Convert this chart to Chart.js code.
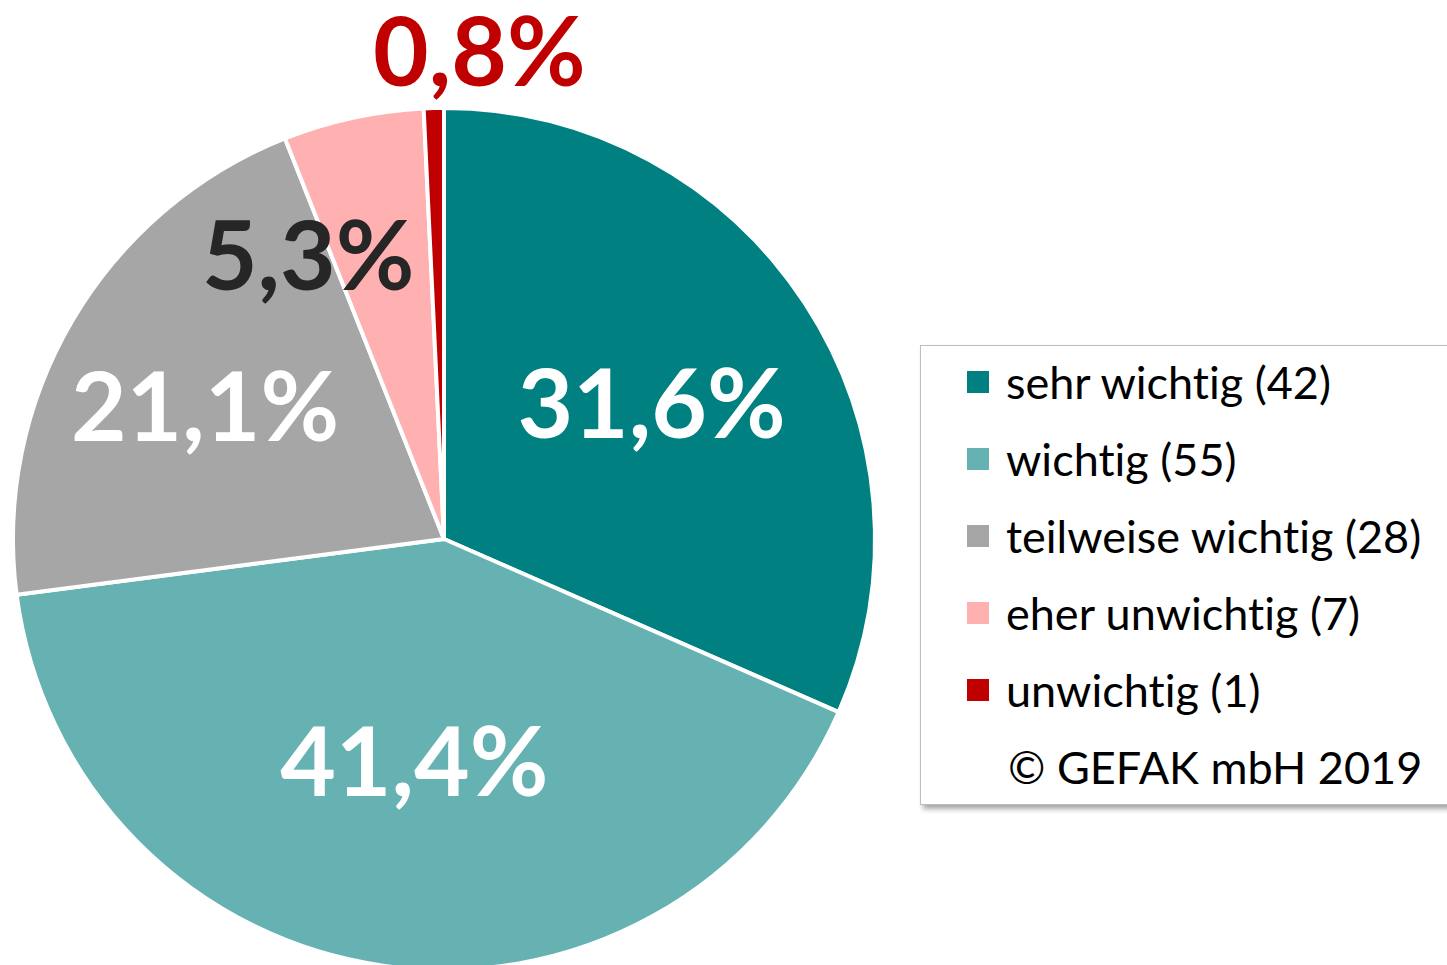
<!DOCTYPE html>
<html>
<head>
<meta charset="utf-8">
<script src="https://cdn.jsdelivr.net/npm/chart.js@4.4.0/dist/chart.umd.min.js"></script>
<style>
  html, body { margin: 0; padding: 0; background: #fff; overflow: hidden; }
  #wrap { position: absolute; left: 0; top: 0; width: 888px; height: 972px; }
  #legend {
    position: absolute; left: 920px; top: 345px; width: 560px; height: 458px;
    border: 1px solid #bdbdbd; background: #fff;
    box-shadow: 3px 4px 5px rgba(0,0,0,0.35);
    font-family: Lato, "Open Sans", sans-serif; font-size: 45px; color: #000;
    font-variant-ligatures: none;
  }
  .row { position: absolute; left: 0; height: 50px; line-height: 50px; white-space: nowrap; }
  .box { position: absolute; left: 46px; top: 14px; width: 22px; height: 22px; }
  .txt { position: absolute; left: 85px; top: 0; }
</style>
</head>
<body>
<div id="wrap"><canvas id="myChart"></canvas></div>
<div id="legend"></div>
<script>
const categories = ["sehr wichtig", "wichtig", "teilweise wichtig", "eher unwichtig", "unwichtig"];
const counts = [42, 55, 28, 7, 1];
const colors = ["#008080", "#66B2B2", "#A6A6A6", "#FFB0B0", "#C00000"];
const labelColors = ["#ffffff", "#ffffff", "#ffffff", "#262626", "#C00000"];
const copyright = "© GEFAK mbH 2019";

// where each percentage sits: share of radius, angle shift in degrees
const labelPos = [
  { f: 0.575, da: 0 },
  { f: 0.52, da: -0.5 },
  { f: 0.635, da: -1.3 },
  { f: 0.73, da: -13.4 },
  { f: 1.135, da: 5.5 },
];

const total = counts.reduce((a, b) => a + b, 0);

const legend = document.getElementById("legend");
let html = "";
for (let i = 0; i < categories.length; i++) {
  html += `<div class="row" style="top:${11 + i * 77}px">
    <div class="box" style="background:${colors[i]}"></div>
    <div class="txt">${categories[i]} (${counts[i]})</div></div>`;
}
html += `<div class="row" style="top:${11 + 5 * 77}px"><div class="txt" style="left:87px">${copyright}</div></div>`;
legend.innerHTML = html;

const pctLabels = {
  id: "pctLabels",
  afterDatasetsDraw(chart) {
    const ctx = chart.ctx;
    const meta = chart.getDatasetMeta(0);
    ctx.save();
    ctx.font = "bold 96px Lato, 'Open Sans', sans-serif";
    ctx.textAlign = "center";
    ctx.textBaseline = "middle";
    meta.data.forEach((arc, i) => {
      const p = arc.getProps(["x", "y", "startAngle", "endAngle", "outerRadius"], true);
      const mid = (p.startAngle + p.endAngle) / 2 + labelPos[i].da * Math.PI / 180;
      const r = p.outerRadius * labelPos[i].f;
      const x = p.x + Math.cos(mid) * r;
      const y = p.y + Math.sin(mid) * r;
      const text = (counts[i] / total * 100).toFixed(1).replace(".", ",") + "%";
      ctx.fillStyle = labelColors[i];
      ctx.fillText(text, x, y + 4);
    });
    ctx.restore();
  },
};

const ctx = document.getElementById("myChart");
new Chart(ctx, {
  type: "pie",
  data: {
    labels: categories,
    datasets: [
      {
        data: counts,
        backgroundColor: colors,
        borderColor: "#ffffff",
        borderWidth: 4,
      },
    ],
  },
  options: {
    responsive: true,
    maintainAspectRatio: false,
    animation: false,
    layout: { padding: { top: 106, bottom: 0, left: 11, right: 11 } },
    plugins: {
      legend: { display: false },
      tooltip: { enabled: false },
    },
  },
  plugins: [pctLabels],
});
</script>
</body>
</html>
